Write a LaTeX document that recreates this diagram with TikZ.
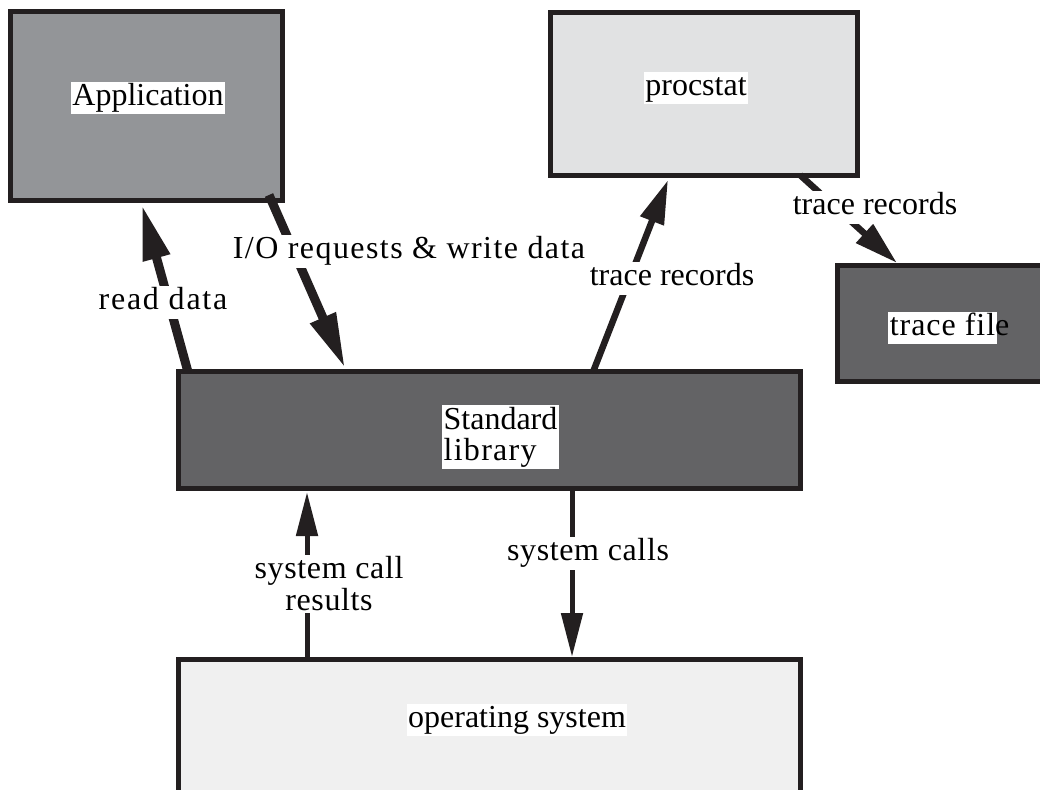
\documentclass[tikz,border=0pt]{standalone}
\usepackage{fontspec}
\setmainfont{Liberation Serif}
\usetikzlibrary{arrows.meta}
\definecolor{bdr}{HTML}{231F20}
\definecolor{appgray}{HTML}{939598}
\definecolor{procgray}{HTML}{E1E2E3}
\definecolor{darkgray}{HTML}{636365}
\definecolor{osgray}{HTML}{F0F0F0}
\begin{document}
\begin{tikzpicture}[x=1pt,y=-1pt,
  box/.style={draw=bdr, line width=5pt, rectangle, inner sep=0pt},
  boxlbl/.style={fill=white, inner sep=1.5pt, text height=22pt, text depth=7pt,
    font=\fontsize{32}{31}\selectfont},
  clbl/.style={fill=white, inner sep=2pt, text height=22pt, text depth=7pt,
    font=\fontsize{32}{32}\selectfont},
  bigarrow/.style={draw=bdr, line width=9pt, -{Triangle[length=55pt,width=26pt]}, color=bdr},
  midarrow/.style={draw=bdr, line width=6.5pt, -{Triangle[length=44pt,width=24pt]}, color=bdr},
  smallarrow/.style={draw=bdr, line width=5pt, -{Triangle[length=44pt,width=21pt]}, color=bdr}
]
\useasboundingbox (0,0) rectangle (1040,789);

% boxes
\node[box, fill=appgray, minimum width=272pt, minimum height=189pt] (app) at (146.5,106) {};
\node[box, fill=procgray, minimum width=307pt, minimum height=163pt] (proc) at (704,94) {};
\node[box, fill=darkgray, minimum width=222.5pt, minimum height=116pt] (tfile) at (948.75,323.5) {};
\node[box, fill=darkgray, minimum width=622pt, minimum height=117pt] (std) at (489.5,430) {};
\node[box, fill=osgray, minimum width=622pt, minimum height=140.5pt] (os) at (489.5,729.75) {};

% box labels
\node[boxlbl] (applbl) at (148,98) {Application};
\node[boxlbl] (proclbl) at (696,88) {procstat};
\node[boxlbl] (tfilelbl) at (942.5,328) {\addfontfeature{LetterSpace=3}trace fil\rlap{e}};
\node[fill=white, inner sep=2pt, align=left, font=\fontsize{32}{31}\selectfont] (stdlbl) at (500.5,437) {Standard\\{\addfontfeature{LetterSpace=4}library}};
\node[boxlbl] (oslbl) at (517,720) {operating system};

% connectors
\draw[bigarrow] ([xshift=12pt,yshift=-3pt]std.north west) -- ([xshift=134pt,yshift=-2pt]app.south west);
\draw[bigarrow] ([xshift=261pt,yshift=8pt]app.south west) -- ([xshift=169pt,yshift=1pt]std.north west);
\draw[midarrow] ([xshift=417pt,yshift=-3pt]std.north west) -- ([xshift=120pt,yshift=-2pt]proc.south west);
\draw[midarrow] ([xshift=252pt,yshift=3pt]proc.south west) -- ([xshift=62pt,yshift=0pt]tfile.north west);
\draw[smallarrow] ([xshift=131pt,yshift=-2pt]os.north west) -- ([xshift=131pt,yshift=-1pt]std.south west);
\draw[smallarrow] ([xshift=396pt,yshift=2pt]std.south west) -- ([xshift=396pt,yshift=0pt]os.north west);

% connector labels
\node[clbl] (lread) at (163,302) {\addfontfeature{LetterSpace=5.5}read data};
\node[clbl] (lio) at (409,251) {\addfontfeature{LetterSpace=4.5}I/O requests \& write data};
\node[clbl] (ltr1) at (672,278) {trace records};
\node[clbl] (ltr2) at (875,207) {trace records};
\node[fill=white, inner sep=2pt, align=center, font=\fontsize{32}{32}\selectfont] (lres) at (329,584) {\addfontfeature{LetterSpace=2}system call\\\addfontfeature{LetterSpace=2}results};
\node[clbl] (lcalls) at (588,553) {\addfontfeature{LetterSpace=2}system calls};
\end{tikzpicture}
\end{document}
